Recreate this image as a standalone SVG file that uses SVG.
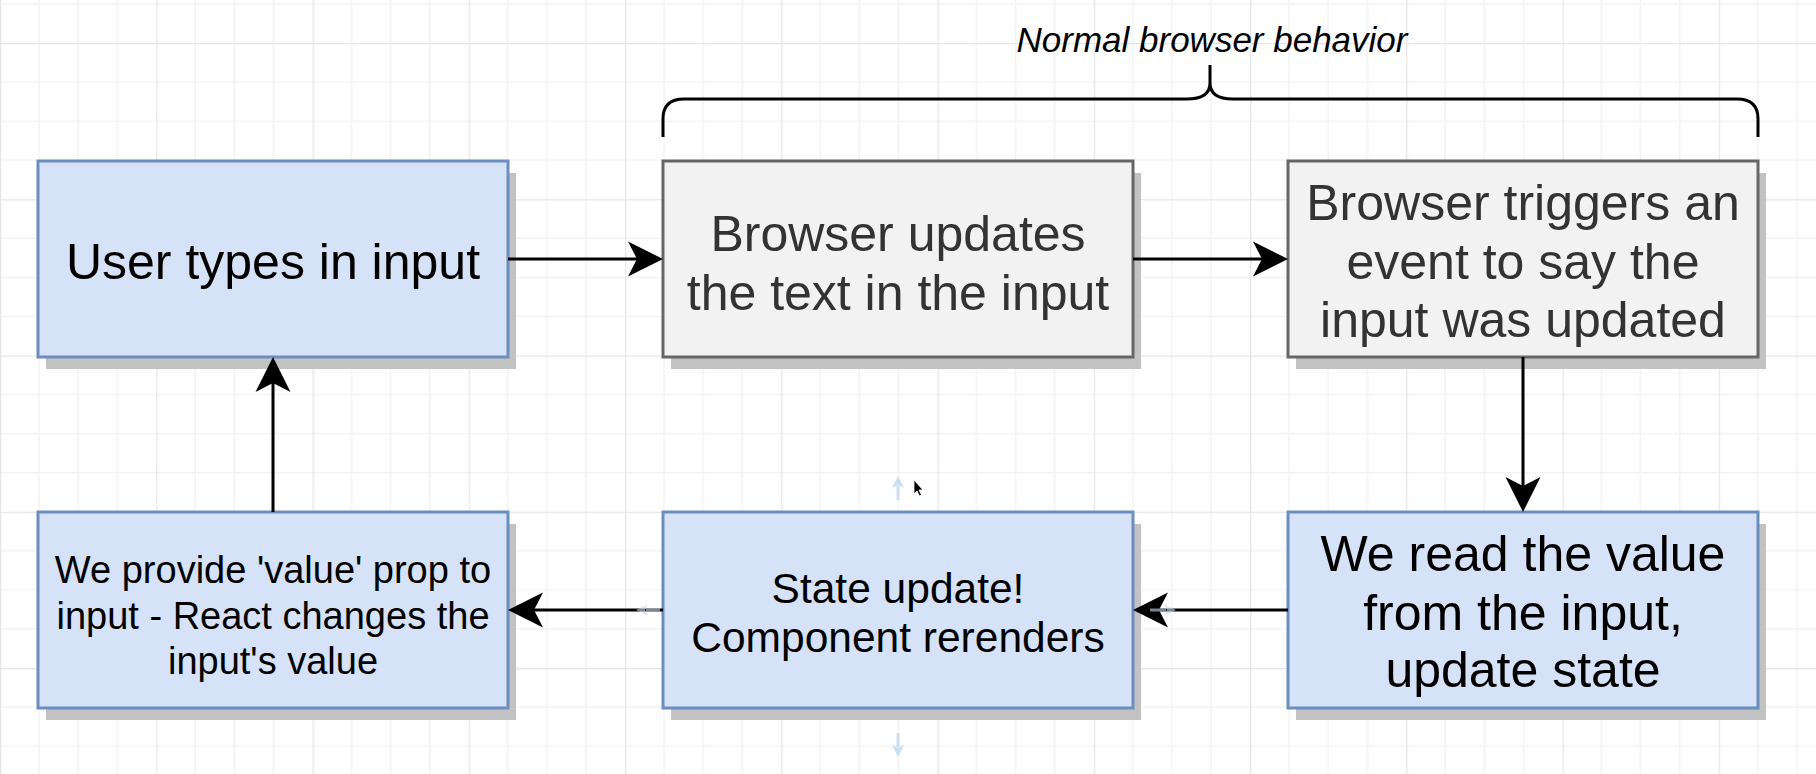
<svg xmlns="http://www.w3.org/2000/svg" width="1816" height="774" viewBox="0 0 1816 774">
  <defs>
    <pattern id="grid" width="156.25" height="156.25" patternUnits="userSpaceOnUse" x="0" y="43">
      <rect width="156.25" height="156.25" fill="#ffffff"/>
      <path d="M39.06,0V156.25M78.125,0V156.25M117.19,0V156.25M0,39.06H156.25M0,78.125H156.25M0,117.19H156.25" stroke="#f3f3f3" stroke-width="1.5" fill="none"/>
      <path d="M0.5,0V156.25M0,0.5H156.25" stroke="#e6e6e6" stroke-width="1.5" fill="none"/>
    </pattern>
    <marker id="arrow" markerUnits="userSpaceOnUse" markerWidth="36" markerHeight="36" viewBox="0 -18 36 36" refX="9" refY="0" orient="auto" overflow="visible">
      <path d="M35,0 L0,-17.5 L9,0 L0,17.5 Z" fill="#000"/>
    </marker>
    <marker id="hint" markerUnits="userSpaceOnUse" markerWidth="14" markerHeight="14" viewBox="0 -7 14 14" refX="2" refY="0" orient="auto" overflow="visible">
      <path d="M12,0 L0,-6 L3,0 L0,6 Z" fill="#c9dff2"/>
    </marker>
  </defs>
  <style>
    .shadow { fill: #c2c2c2; }
    .blue { fill: #d5e2f7; stroke: #6c8ebf; stroke-width: 3; }
    .gray { fill: #f2f2f2; stroke: #666666; stroke-width: 3; }
    .t { font-family: "Liberation Sans", Arial, Helvetica, sans-serif; text-anchor: middle; fill: #000; }
    .tg { fill: #333333; }
    .big { font-size: 50px; }
    .conn { stroke: #000; stroke-width: 3; fill: none; marker-end: url(#arrow); }
    .hintl { stroke: #c9dff2; stroke-width: 3; fill: none; marker-end: url(#hint); }
  </style>

  <rect width="1816" height="774" fill="url(#grid)"/>

  <!-- Brace with label -->
  <g id="brace">
    <path d="M663,137 L663,119 Q663,99 684,99 L1187,99 Q1210,99 1210,83 L1210,65 M1210,83 Q1210,99 1233,99 L1737,99 Q1758,99 1758,119 L1758,137" stroke="#000" stroke-width="3" fill="none"/>
    <text class="t" x="1212" y="52" font-size="35" font-style="italic">Normal browser behavior</text>
  </g>

  <g id="node-user-types">
    <rect class="shadow" x="46" y="173" width="470" height="196"/>
    <rect class="blue" x="38" y="161" width="470" height="196"/>
    <text class="t big" x="273" y="279">User types in input</text>
  </g>

  <g id="node-browser-updates">
    <rect class="shadow" x="671" y="173" width="470" height="196"/>
    <rect class="gray" x="663" y="161" width="470" height="196"/>
    <text class="t tg big" x="898" y="251">Browser updates</text>
    <text class="t tg big" x="898" y="310">the text in the input</text>
  </g>

  <g id="node-browser-triggers">
    <rect class="shadow" x="1296" y="173" width="470" height="196"/>
    <rect class="gray" x="1288" y="161" width="470" height="196"/>
    <text class="t tg big" x="1523" y="220">Browser triggers an</text>
    <text class="t tg big" x="1523" y="279">event to say the</text>
    <text class="t tg big" x="1523" y="337">input was updated</text>
  </g>

  <g id="node-value-prop">
    <rect class="shadow" x="46" y="524" width="470" height="196"/>
    <rect class="blue" x="38" y="512" width="470" height="196"/>
    <text class="t" x="273" y="583" font-size="38">We provide 'value' prop to</text>
    <text class="t" x="273" y="629" font-size="38">input - React changes the</text>
    <text class="t" x="273" y="674" font-size="38">input's value</text>
  </g>

  <g id="node-state-update">
    <rect class="shadow" x="671" y="524" width="470" height="196"/>
    <rect class="blue" x="663" y="512" width="470" height="196"/>
    <text class="t" x="898" y="603" font-size="42.5">State update!</text>
    <text class="t" x="898" y="652" font-size="42.5">Component rerenders</text>
  </g>

  <g id="node-read-value">
    <rect class="shadow" x="1296" y="524" width="470" height="196"/>
    <rect class="blue" x="1288" y="512" width="470" height="196"/>
    <text class="t big" x="1523" y="571">We read the value</text>
    <text class="t big" x="1523" y="630">from the input,</text>
    <text class="t big" x="1523" y="687">update state</text>
  </g>

  <g id="connectors">
    <path class="conn" d="M508,259 L637,259"/>
    <path class="conn" d="M1133,259 L1262,259"/>
    <path class="conn" d="M1523,357 L1523,486"/>
    <path class="conn" d="M1288,610 L1159,610"/>
    <path class="conn" d="M663,610 L534,610"/>
    <path class="conn" d="M273,512 L273,383"/>
  </g>

  <!-- faint hover hints and cursor -->
  <g id="hover-hints">
    <path class="hintl" d="M898,500 L898,486"/>
    <path class="hintl" d="M898,733 L898,747"/>
    <path class="hintl" d="M660,610 L646,610" opacity="0.6"/>
    <path class="hintl" d="M1150,610 L1166,610" opacity="0.6"/>
    <path d="M914,480 L914,494 L917,491 L919.5,496 L921.5,495 L919,490 L923,490 Z" fill="#000" stroke="#fff" stroke-width="0.8"/>
  </g>
</svg>
